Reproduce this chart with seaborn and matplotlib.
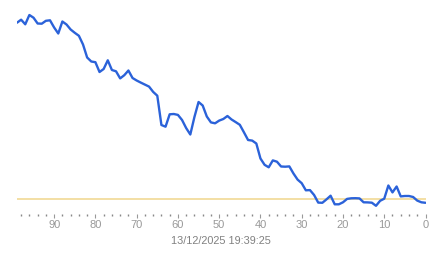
import matplotlib
matplotlib.use("Agg")
import matplotlib.pyplot as plt
import seaborn as sns
import pandas as pd
from matplotlib.ticker import MultipleLocator

# seconds ago (99 .. 0)
seconds_ago = list(range(99, -1, -1))
values = [188.3, 191.3, 186.7, 196.0, 193.3, 187.5, 187.3, 190.2, 190.7, 183.5,
          177.5, 189.5, 186.5, 181.5, 178.2, 175.2, 166.5, 153.5, 149.5, 148.8,
          139.0, 142.0, 150.7, 141.0, 139.7, 132.6, 135.8, 140.5, 133.0, 130.5,
          128.4, 126.4, 124.4, 119.1, 115.3, 86.0, 84.3, 96.7, 97.0, 96.1,
          91.0, 82.9, 76.5, 94.0, 109.0, 105.5, 94.5, 88.6, 87.7, 90.4,
          92.0, 95.0, 91.5, 88.9, 86.2, 78.7, 71.0, 70.4, 67.5, 52.5,
          46.2, 43.7, 50.6, 49.3, 44.5, 44.3, 44.6, 37.5, 31.4, 27.8,
          20.7, 20.9, 16.0, 8.4, 8.2, 11.6, 15.3, 6.7, 6.7, 8.7,
          12.1, 12.7, 12.8, 12.6, 8.7, 8.6, 8.3, 5.2, 10.2, 12.3,
          25.5, 18.6, 24.5, 14.6, 15.0, 15.0, 14.0, 10.4, 8.7, 8.2]
threshold = 11.7
major_ticks = [90, 80, 70, 60, 50, 40, 30, 20, 10, 0]
timestamp = "13/12/2025 19:39:25"

df = pd.DataFrame({"ago": seconds_ago, "value": values})

sns.set_theme(style="white")
plt.rcParams["font.family"] = ["Liberation Sans", "DejaVu Sans"]

fig = plt.figure(figsize=(4.43, 2.58), dpi=100)
ax = fig.add_axes([17 / 443, (258 - 213.5) / 258, (425.5 - 17) / 443, 203.5 / 258])

ax.axhline(threshold, color="#f0d68c", lw=1.1, zorder=1)
sns.lineplot(data=df, x="ago", y="value", ax=ax, color="#2b62d9", lw=1.7, zorder=3)

ax.set_xlim(99, 0)
ax.set_ylim(-2.5, 201)
for s in ax.spines.values():
    s.set_visible(False)
ax.set_xlabel("")
ax.set_ylabel("")
ax.set_yticks([])
ax.set_xticks(major_ticks)
ax.set_xticklabels([str(t) for t in major_ticks])
ax.xaxis.set_minor_locator(MultipleLocator(2))
ax.tick_params(axis="x", which="major", direction="out", length=3.2, width=0.8,
               color="#999999", labelcolor="#999999", labelsize=8, pad=1.5, bottom=True)
ax.tick_params(axis="x", which="minor", direction="out", length=1.1, width=1.0,
               color="#888888", bottom=True)

fig.text((17 + 425.5) / 2 / 443, 17 / 258, timestamp, ha="center", va="center",
         fontsize=7.8, color="#808080")

fig.savefig("out.png", dpi=100)
